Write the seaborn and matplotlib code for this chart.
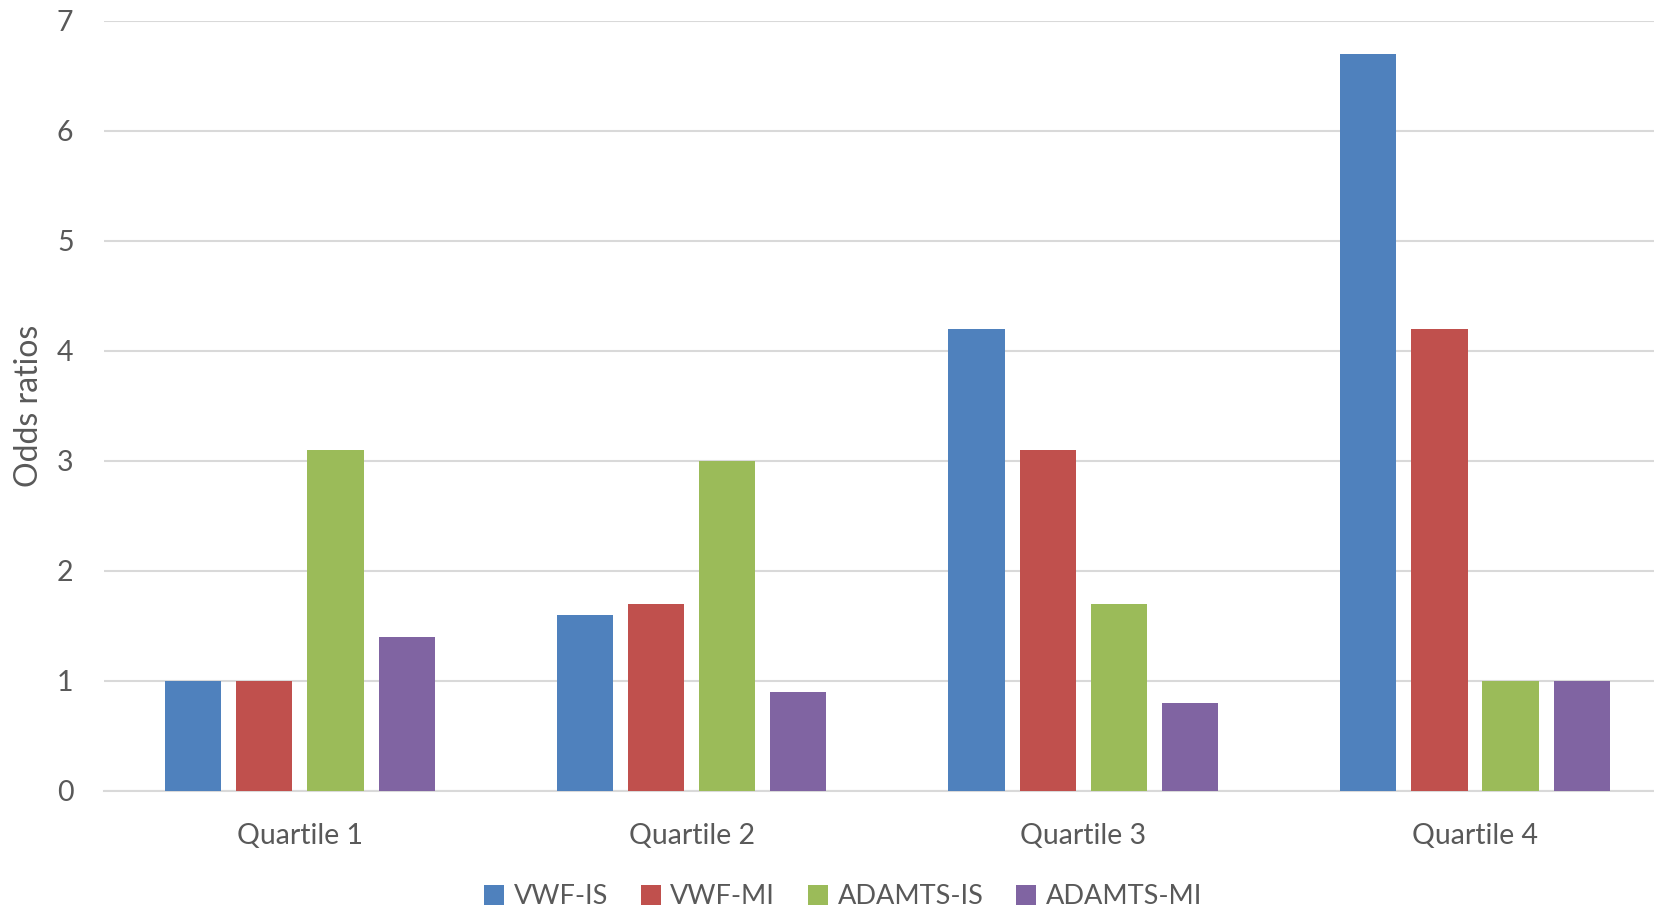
import matplotlib
matplotlib.use("Agg")
import matplotlib.pyplot as plt
import pandas as pd
import seaborn as sns

# Odds ratios by quartile for each marker/outcome pair
quartiles = ["Quartile 1", "Quartile 2", "Quartile 3", "Quartile 4"]
series_names = ["VWF-IS", "VWF-MI", "ADAMTS-IS", "ADAMTS-MI"]
vwf_is = [1.0, 1.6, 4.2, 6.7]
vwf_mi = [1.0, 1.7, 3.1, 4.2]
adamts_is = [3.1, 3.0, 1.7, 1.0]
adamts_mi = [1.4, 0.9, 0.8, 1.0]
y_ticks = [0, 1, 2, 3, 4, 5, 6, 7]

colors = ["#4F81BD", "#C0504D", "#9BBB59", "#8064A2"]

rows = []
for name, vals in zip(series_names, [vwf_is, vwf_mi, adamts_is, adamts_mi]):
    for q, v in zip(quartiles, vals):
        rows.append({"Quartile": q, "Series": name, "Odds ratio": v})
df = pd.DataFrame(rows)

sns.set_theme(style="white")
plt.rcParams["font.family"] = ["Lato", "DejaVu Sans"]
text_color = "#595959"
grid_color = "#D9D9D9"

fig = plt.figure(figsize=(16.54, 9.08), dpi=100)
ax = fig.add_axes([0.0629, 0.1292, 0.9371, 0.848])

sns.barplot(
    data=df, x="Quartile", y="Odds ratio", hue="Series",
    order=quartiles, hue_order=series_names, palette=colors,
    width=0.727, gap=0.21, saturation=1, errorbar=None,
    edgecolor="none", ax=ax, zorder=3,
)

ax.set_ylim(0, 7)
ax.set_xlim(-0.5, 3.457)
ax.set_yticks(y_ticks)
ax.yaxis.grid(True, color=grid_color, linewidth=1.5, zorder=0)
ax.set_axisbelow(True)
for side in ["top", "right", "left"]:
    ax.spines[side].set_visible(False)
ax.spines["bottom"].set_color(grid_color)
ax.spines["bottom"].set_linewidth(1.5)

ax.tick_params(axis="both", length=0, labelsize=20.5, colors=text_color)
ax.tick_params(axis="y", pad=22)
ax.tick_params(axis="x", pad=23)
ax.set_xlabel("")
ax.set_ylabel("Odds ratios", fontsize=23, color=text_color)
ax.yaxis.set_label_coords(-0.039, 0.5)

handles, labels = ax.get_legend_handles_labels()
ax.legend(
    handles, labels, ncol=4, frameon=False, loc="center",
    bbox_to_anchor=(843 / 1654, 1 - 897 / 908), bbox_transform=fig.transFigure,
    handlelength=0.75, handleheight=0.75, handletextpad=0.35,
    columnspacing=1.2, fontsize=19.5, labelcolor=text_color,
)

fig.savefig("out.png", dpi=100)
